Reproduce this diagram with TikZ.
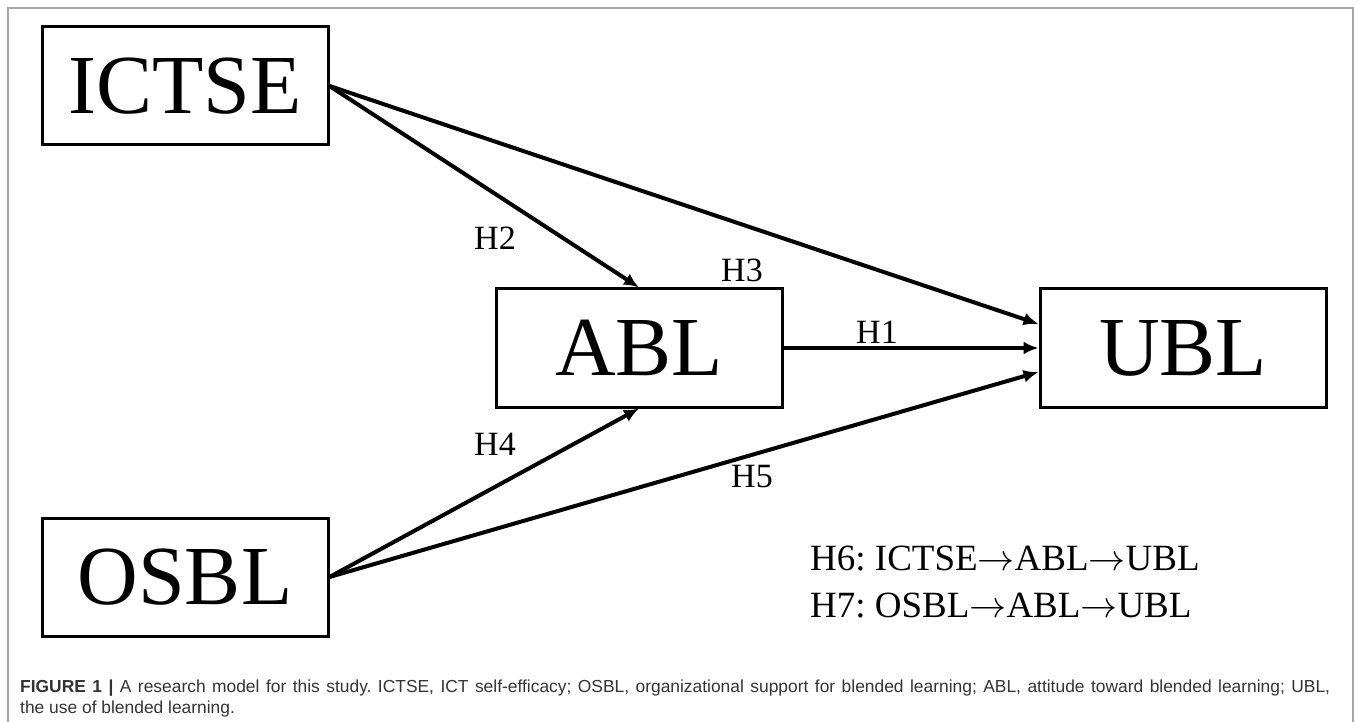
\RequirePackage{fix-cm}
\documentclass[tikz,border=0pt]{standalone}
\usepackage{fontspec}
\setmainfont{Liberation Serif}
\setsansfont{Liberation Sans}
\usetikzlibrary{positioning,arrows.meta}

\begin{document}
\frenchspacing
\begin{tikzpicture}[
    x=1pt, y=-1pt,
    node distance=255pt,
    var/.style={draw, line width=3pt, minimum width=286pt, minimum height=118pt, inner sep=0pt, font=\fontsize{84}{90}\selectfont},
    link/.style={-{Latex[length=15pt,width=13pt]}, line width=4pt},
    hyp/.style={inner sep=0pt, font=\fontsize{34}{40}\selectfont},
    chain/.style={inner sep=0pt, anchor=base west, font=\fontsize{37}{47}\selectfont},
    capt/.style={inner sep=0pt, anchor=base west, text=black!80, font=\sffamily\fontsize{17.4}{21}\selectfont}
]
\useasboundingbox (0,0) rectangle (1358,722);
\draw[gray!70, line width=1.5pt] (8,722) -- (8,8) -- (1353,8) -- (1353,722);

% Variables
\node[var] (ictse) at (185,86) {ICTSE};
\node[var, below=370pt of ictse] (osbl) {OSBL};
\node[var] (abl) at (639,348) {ABL};
\node[var, right=of abl] (ubl) {UBL};

% Paths
\draw[link] (ictse.east) -- ([yshift=24pt]ubl.west);
\draw[link] (ictse.east) -- (abl.north);
\draw[link] (abl) -- (ubl);
\draw[link] (osbl.east) -- (abl.south);
\draw[link] (osbl.east) -- ([yshift=-24pt]ubl.west);

% Hypotheses
\node[hyp] (h1) at (877,332) {H1};
\node[hyp] (h2) at (495,238) {H2};
\node[hyp] (h3) at (742,270) {H3};
\node[hyp] (h4) at (495,444) {H4};
\node[hyp] (h5) at (752,477) {H5};
\node[chain] (h6) at (810,570) {H6:\ ICTSE$\rightarrow$ABL$\rightarrow$UBL};
\node[chain] (h7) at ([yshift=-47pt]h6.base west) {H7:\ OSBL$\rightarrow$ABL$\rightarrow$UBL};

% Caption
\node[capt] (cap1) at (20,692) {\hbox to 1310pt{\textbf{FIGURE 1 |} A research model for this study. ICTSE, ICT self-efficacy; OSBL, organizational support for blended learning; ABL, attitude toward blended learning; UBL,}};
\node[capt] (cap2) at (20,713) {the use of blended learning.};
\end{tikzpicture}
\end{document}
